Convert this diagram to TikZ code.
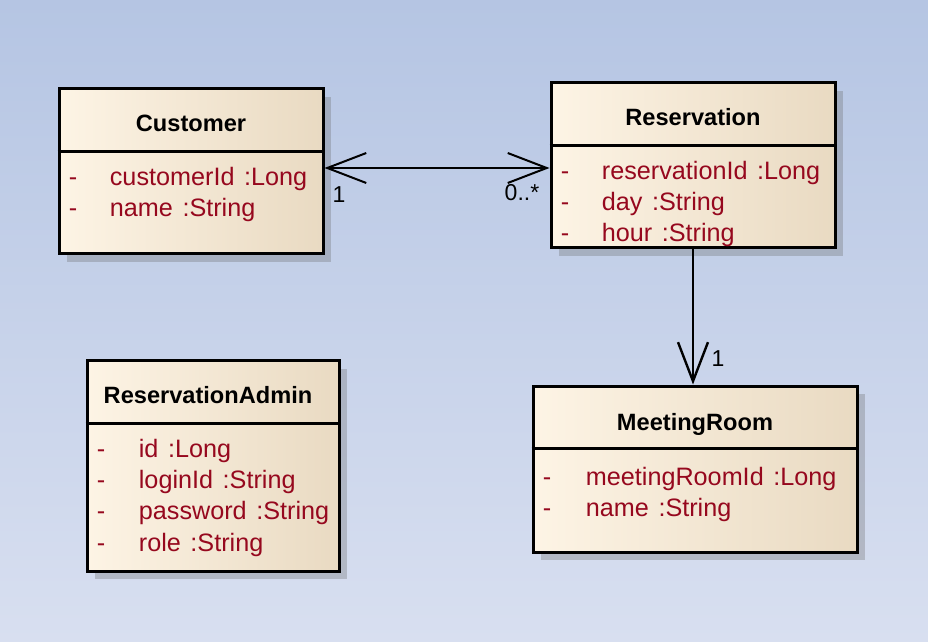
\documentclass[tikz,border=0pt]{standalone}
\usepackage{fontspec}
\setmainfont{Liberation Sans}
\usepackage{tikz}
\usetikzlibrary{arrows.meta,shadows}
\definecolor{bgtop}{RGB}{181,197,227}
\definecolor{bgbot}{RGB}{216,223,240}
\definecolor{boxl}{RGB}{253,244,229}
\definecolor{boxr}{RGB}{233,218,194}
\definecolor{attrred}{RGB}{150,8,30}
\newcommand{\rowsep}{15.6pt}
\newcommand{\divsep}{32pt}
\newcommand{\firstrow}{49pt}
\newcommand{\attr}[2]{#1\hspace{0.38em}:#2}

\begin{document}
\begin{tikzpicture}[x=0.5pt, y=-0.5pt]
                %\draw[help lines] (0,0) grid[step=50] (928,642);
                \tikzset{classbox/.style = {draw, line width=1.5pt, rectangle, inner sep=0pt,
                            left color=boxl, right color=boxr,
                            drop shadow={shadow xshift=4pt, shadow yshift=-4pt, fill=black!60, opacity=.3}}}
                \tikzset{classname/.style = {font=\fontsize{11.8}{14}\selectfont\bfseries, inner sep=0pt, anchor=base}}
                \tikzset{attrtext/.style = {text=attrred, font=\fontsize{12.6}{14}\selectfont, inner sep=0pt, anchor=base west}}
                \tikzset{mult/.style = {font=\fontsize{11.5}{14}\selectfont, inner sep=0pt}}
                \tikzset{>={Straight Barb[length=19.5pt, width=15pt]}}
                \useasboundingbox (0,0) rectangle (928,642);
                \fill[top color=bgtop, bottom color=bgbot] (0,0) rectangle (928,642);
                % Customer
                \begin{scope}
                    \node[classbox, minimum width=132pt, minimum height=82.5pt] (cust) at (191,171.5) {};
                    \draw[line width=1.2pt] ([yshift=-\divsep]cust.north west) -- ([yshift=-\divsep]cust.north east);
                    \node[classname] (cust-title) at ([yshift=-22pt]cust.north) {Customer};
                    \foreach \n/\ty [count=\i from 0] in {customerId/Long, name/String}{
                        \node[attrtext] (cust-d\i) at ([xshift=5.5pt, yshift=-\firstrow-\i*\rowsep]cust.north west) {-};
                        \node[attrtext] (cust-a\i) at ([xshift=26pt, yshift=-\firstrow-\i*\rowsep]cust.north west) {\attr{\n}{\ty}};
                    }
                \end{scope}
                % Reservation
                \begin{scope}
                    \node[classbox, minimum width=142pt, minimum height=82.5pt] (res) at (693,165.5) {};
                    \draw[line width=1.2pt] ([yshift=-\divsep]res.north west) -- ([yshift=-\divsep]res.north east);
                    \node[classname] (res-title) at ([yshift=-22pt]res.north) {Reservation};
                    \foreach \n/\ty [count=\i from 0] in {reservationId/Long, day/String, hour/String}{
                        \node[attrtext] (res-d\i) at ([xshift=5.5pt, yshift=-\firstrow-\i*\rowsep]res.north west) {-};
                        \node[attrtext] (res-a\i) at ([xshift=26pt, yshift=-\firstrow-\i*\rowsep]res.north west) {\attr{\n}{\ty}};
                    }
                \end{scope}
                % ReservationAdmin
                \begin{scope}
                    \node[classbox, minimum width=126pt, minimum height=105pt] (admin) at (213,466) {};
                    \draw[line width=1.2pt] ([yshift=-\divsep]admin.north west) -- ([yshift=-\divsep]admin.north east);
                    \node[classname] (admin-title) at ([xshift=-2.5pt, yshift=-22pt]admin.north) {ReservationAdmin};
                    \foreach \n/\ty [count=\i from 0] in {id/Long, loginId/String, password/String, role/String}{
                        \node[attrtext] (admin-d\i) at ([xshift=5.5pt, yshift=-\firstrow-\i*\rowsep]admin.north west) {-};
                        \node[attrtext] (admin-a\i) at ([xshift=26.5pt, yshift=-\firstrow-\i*\rowsep]admin.north west) {\attr{\n}{\ty}};
                    }
                \end{scope}
                % MeetingRoom
                \begin{scope}
                    \node[classbox, minimum width=162pt, minimum height=83pt] (room) at (695,469) {};
                    \draw[line width=1.2pt] ([yshift=-\divsep]room.north west) -- ([yshift=-\divsep]room.north east);
                    \node[classname] (room-title) at ([yshift=-23pt]room.north) {MeetingRoom};
                    \foreach \n/\ty [count=\i from 0] in {meetingRoomId/Long, name/String}{
                        \node[attrtext] (room-d\i) at ([xshift=5.5pt, yshift=-50.5pt-\i*\rowsep]room.north west) {-};
                        \node[attrtext] (room-a\i) at ([xshift=27pt, yshift=-50.5pt-\i*\rowsep]room.north west) {\attr{\n}{\ty}};
                    }
                \end{scope}
                % associations
                \coordinate (assoc-l) at ([yshift=1.75pt]cust.east);
                \draw[<->, line width=1pt] (assoc-l) -- (assoc-l -| res.west);
                \draw[->, line width=1.2pt] (res.south) -- (res.south |- room.north);
                \node[mult] (m-cust) at (339,195) {1};
                \node[mult] (m-res) at (522,193) {0..*};
                \node[mult] (m-room) at (718,359) {1};
        \end{tikzpicture}
\end{document}
